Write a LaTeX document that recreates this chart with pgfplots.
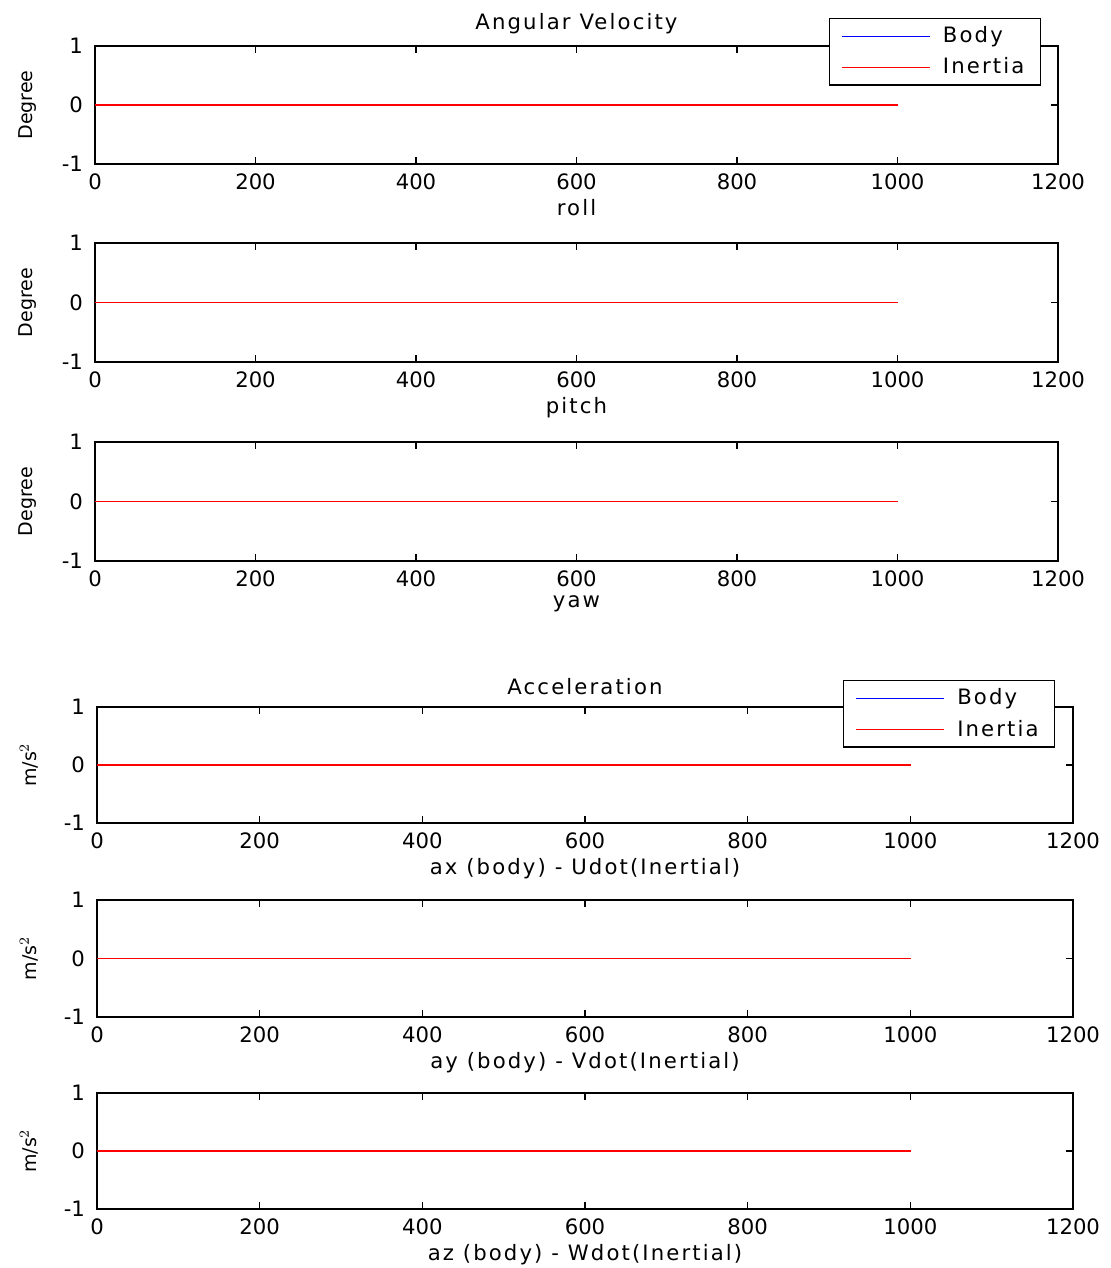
\documentclass[border=0pt]{standalone}
\usepackage{pgfplots}
\pgfplotsset{compat=1.18}
\usepackage{fontspec}
\setmainfont{DejaVu Sans}
\newfontfamily\spfont[LetterSpace=10]{DejaVu Sans}
\newcommand\fs{\fontsize{10.6}{12.7}\selectfont}
\newcommand\yfs{\fontsize{9.5}{11.4}\selectfont}
\newcommand\lfs{\spfont\fontsize{10.6}{12.7}\selectfont}
\definecolor{mblue}{rgb}{0,0,1}
\definecolor{mred}{rgb}{1,0,0}
\pgfplotsset{
  myax/.style={
    scale only axis, anchor=south west,
    xmin=0, xmax=1200, ymin=-1, ymax=1,
    xtick={0,200,...,1200}, ytick={-1,0,1},
    tick align=inside, major tick length=3.5pt,
    axis line style={line width=0.6pt},
    every tick/.style={black, line width=0.6pt},
    tick label style={font=\fs},
    xticklabel style={yshift=-1.5pt},
    label style={font=\lfs},
    title style={font=\lfs, at={(axis description cs:0.5,1)}, anchor=south, yshift=-3.5pt},
    xlabel style={at={(axis description cs:0.5,0)}, anchor=north, yshift=-14pt},
    yticklabel style={xshift=-2.5pt},
    /pgf/number format/assume math mode=true,
    /pgf/number format/set thousands separator={},
    scaled ticks=false,
    legend cell align=left,
    legend image code/.code={\draw[#1] (0pt,0pt) -- (44pt,0pt);},
  },
  top/.style={myax, width=481.5pt, ylabel={Degree},
    ylabel style={font=\yfs, at={(axis description cs:-0.053,0.5)}, anchor=south}},
  bot/.style={myax, width=488pt, ylabel={m/s$^2$},
    ylabel style={font=\yfs, at={(axis description cs:-0.053,0.5)}, anchor=south}},
  leg/.style={legend style={at={(#1)}, anchor=center, draw=black, line width=0.6pt,
    fill=white, font=\lfs, row sep=2pt, inner xsep=6pt, inner ysep=2pt,
    nodes={inner sep=2pt}}},
  bodyline/.style={color=mblue, line width=0.6pt},
  redline/.style={color=mred, line width=0.9pt},
}
\pgfplotstableread{
x y
0 0
1001 0
}\zeroline
\begin{document}
\begin{tikzpicture}
\useasboundingbox (0,0) rectangle (555pt,634pt);
% Angular velocity
\begin{axis}[top, at={(47.5pt,552pt)}, height=59pt, title={Angular Velocity}, xlabel={roll},
  leg={0.872,0.95}]
\addplot[bodyline] table {\zeroline};
\addplot[redline] table {\zeroline};
\legend{\hspace{4pt}Body,\hspace{4pt}Inertia}
\end{axis}
\begin{axis}[top, at={(47.5pt,453pt)}, height=59.5pt, xlabel={pitch}]
\addplot[bodyline] table {\zeroline};
\addplot[redline] table {\zeroline};
\end{axis}
\begin{axis}[top, at={(47.5pt,353.5pt)}, height=59.5pt, xlabel={yaw}]
\addplot[bodyline] table {\zeroline};
\addplot[redline] table {\zeroline};
\end{axis}
% Acceleration
\begin{axis}[bot, at={(48.5pt,222.5pt)}, height=58pt, title={Acceleration},
  xlabel={ax (body) - Udot(Inertial)}, leg={0.873,0.94}]
\addplot[bodyline] table {\zeroline};
\addplot[redline] table {\zeroline};
\legend{\hspace{4pt}Body,\hspace{4pt}Inertia}
\end{axis}
\begin{axis}[bot, at={(48.5pt,125.5pt)}, height=58.5pt, xlabel={ay (body) - Vdot(Inertial)}]
\addplot[bodyline] table {\zeroline};
\addplot[redline] table {\zeroline};
\end{axis}
\begin{axis}[bot, at={(48.5pt,29.5pt)}, height=58pt, xlabel={az (body) - Wdot(Inertial)}]
\addplot[bodyline] table {\zeroline};
\addplot[redline] table {\zeroline};
\end{axis}
\end{tikzpicture}
\end{document}
